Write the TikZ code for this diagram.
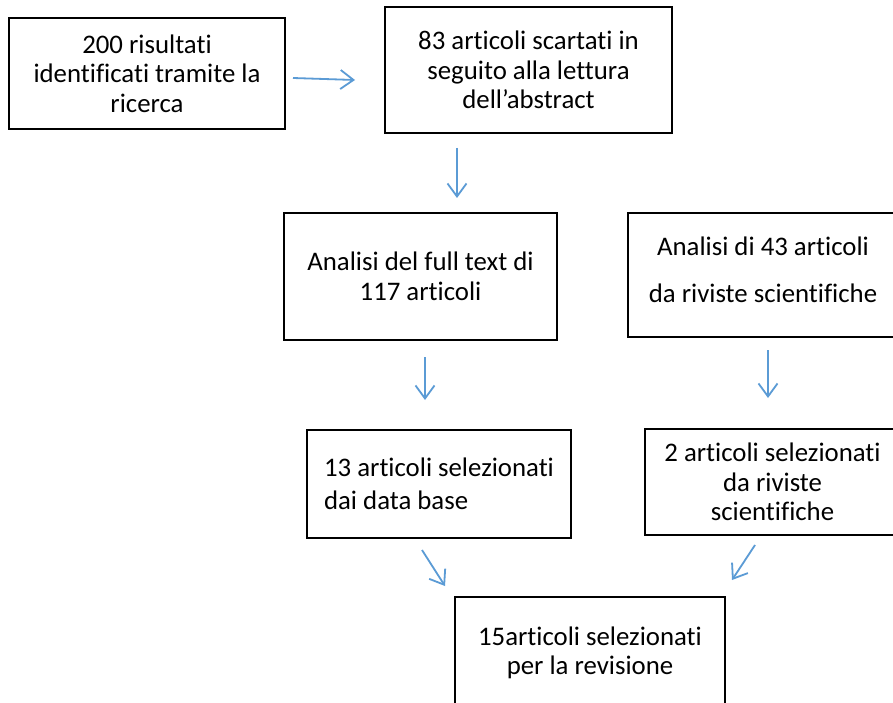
\documentclass[tikz,border=0pt]{standalone}
\usepackage{fontspec}
\setmainfont{Carlito}[Ligatures={NoCommon,NoRequired,NoContextual}]
\usetikzlibrary{arrows.meta}
\definecolor{arrblue}{RGB}{91,155,213}
\begin{document}
\begin{tikzpicture}[x=1pt,y=-1pt,
  box/.style={draw=black, line width=1.8pt, inner sep=0pt, align=center,
    font=\fontsize{26.8}{29.5}\selectfont},
  arr/.style={draw=arrblue, line width=1.8pt, -{Straight Barb[length=13pt,width=19pt]}}]
\useasboundingbox (0,0) rectangle (893,703);
\clip (0,0) rectangle (893,703);
\fill[white] (0,0) rectangle (893,703);
\node[box, minimum width=276pt, minimum height=111pt] (b1) at (147,73.5)
  {200 risultati\\identificati tramite la\\ricerca};
\node[box, minimum width=287pt, minimum height=126pt] (b2) at (528.5,70)
  {83 articoli scartati in\\seguito alla lettura\\dell’abstract};
\node[box, minimum width=273pt, minimum height=127pt] (b3) at (420.5,276.5)
  {Analisi del full text di\\117 articoli};
\node[box, minimum width=270pt, minimum height=124pt,
  font=\fontsize{26.8}{47}\selectfont] (b4) at (763,275)
  {Analisi di 43 articoli\\da riviste scientifiche\rule[-10pt]{0pt}{0pt}};
\node[box, minimum width=264pt, minimum height=108pt, align=left,
  font=\fontsize{26.8}{33}\selectfont] (b5) at (439,484)
  {13 articoli selezionati\\dai data base};
\node[box, minimum width=255pt, minimum height=106pt] (b6) at (772.5,482)
  {2 articoli selezionati\\da riviste\\scientifiche};
\node[box, minimum width=270pt, minimum height=112pt] (b7) at (590,653)
  {15articoli selezionati\\per la revisione};
\coordinate (a1s) at (293,78);  \coordinate (a1e) at (355,80);
\coordinate (a2s) at (457,148); \coordinate (a2e) at (457,198);
\coordinate (a3s) at (425,357); \coordinate (a3e) at (425,400);
\coordinate (a4s) at (768,350); \coordinate (a4e) at (768,398);
\coordinate (a5s) at (422,550); \coordinate (a5e) at (445,586);
\coordinate (a6s) at (755,545); \coordinate (a6e) at (732,580);
\draw[arr] (a1s) -- (a1e);
\draw[arr] (a2s) -- (a2e);
\draw[arr] (a3s) -- (a3e);
\draw[arr] (a4s) -- (a4e);
\draw[arr] (a5s) -- (a5e);
\draw[arr] (a6s) -- (a6e);
\end{tikzpicture}
\end{document}
